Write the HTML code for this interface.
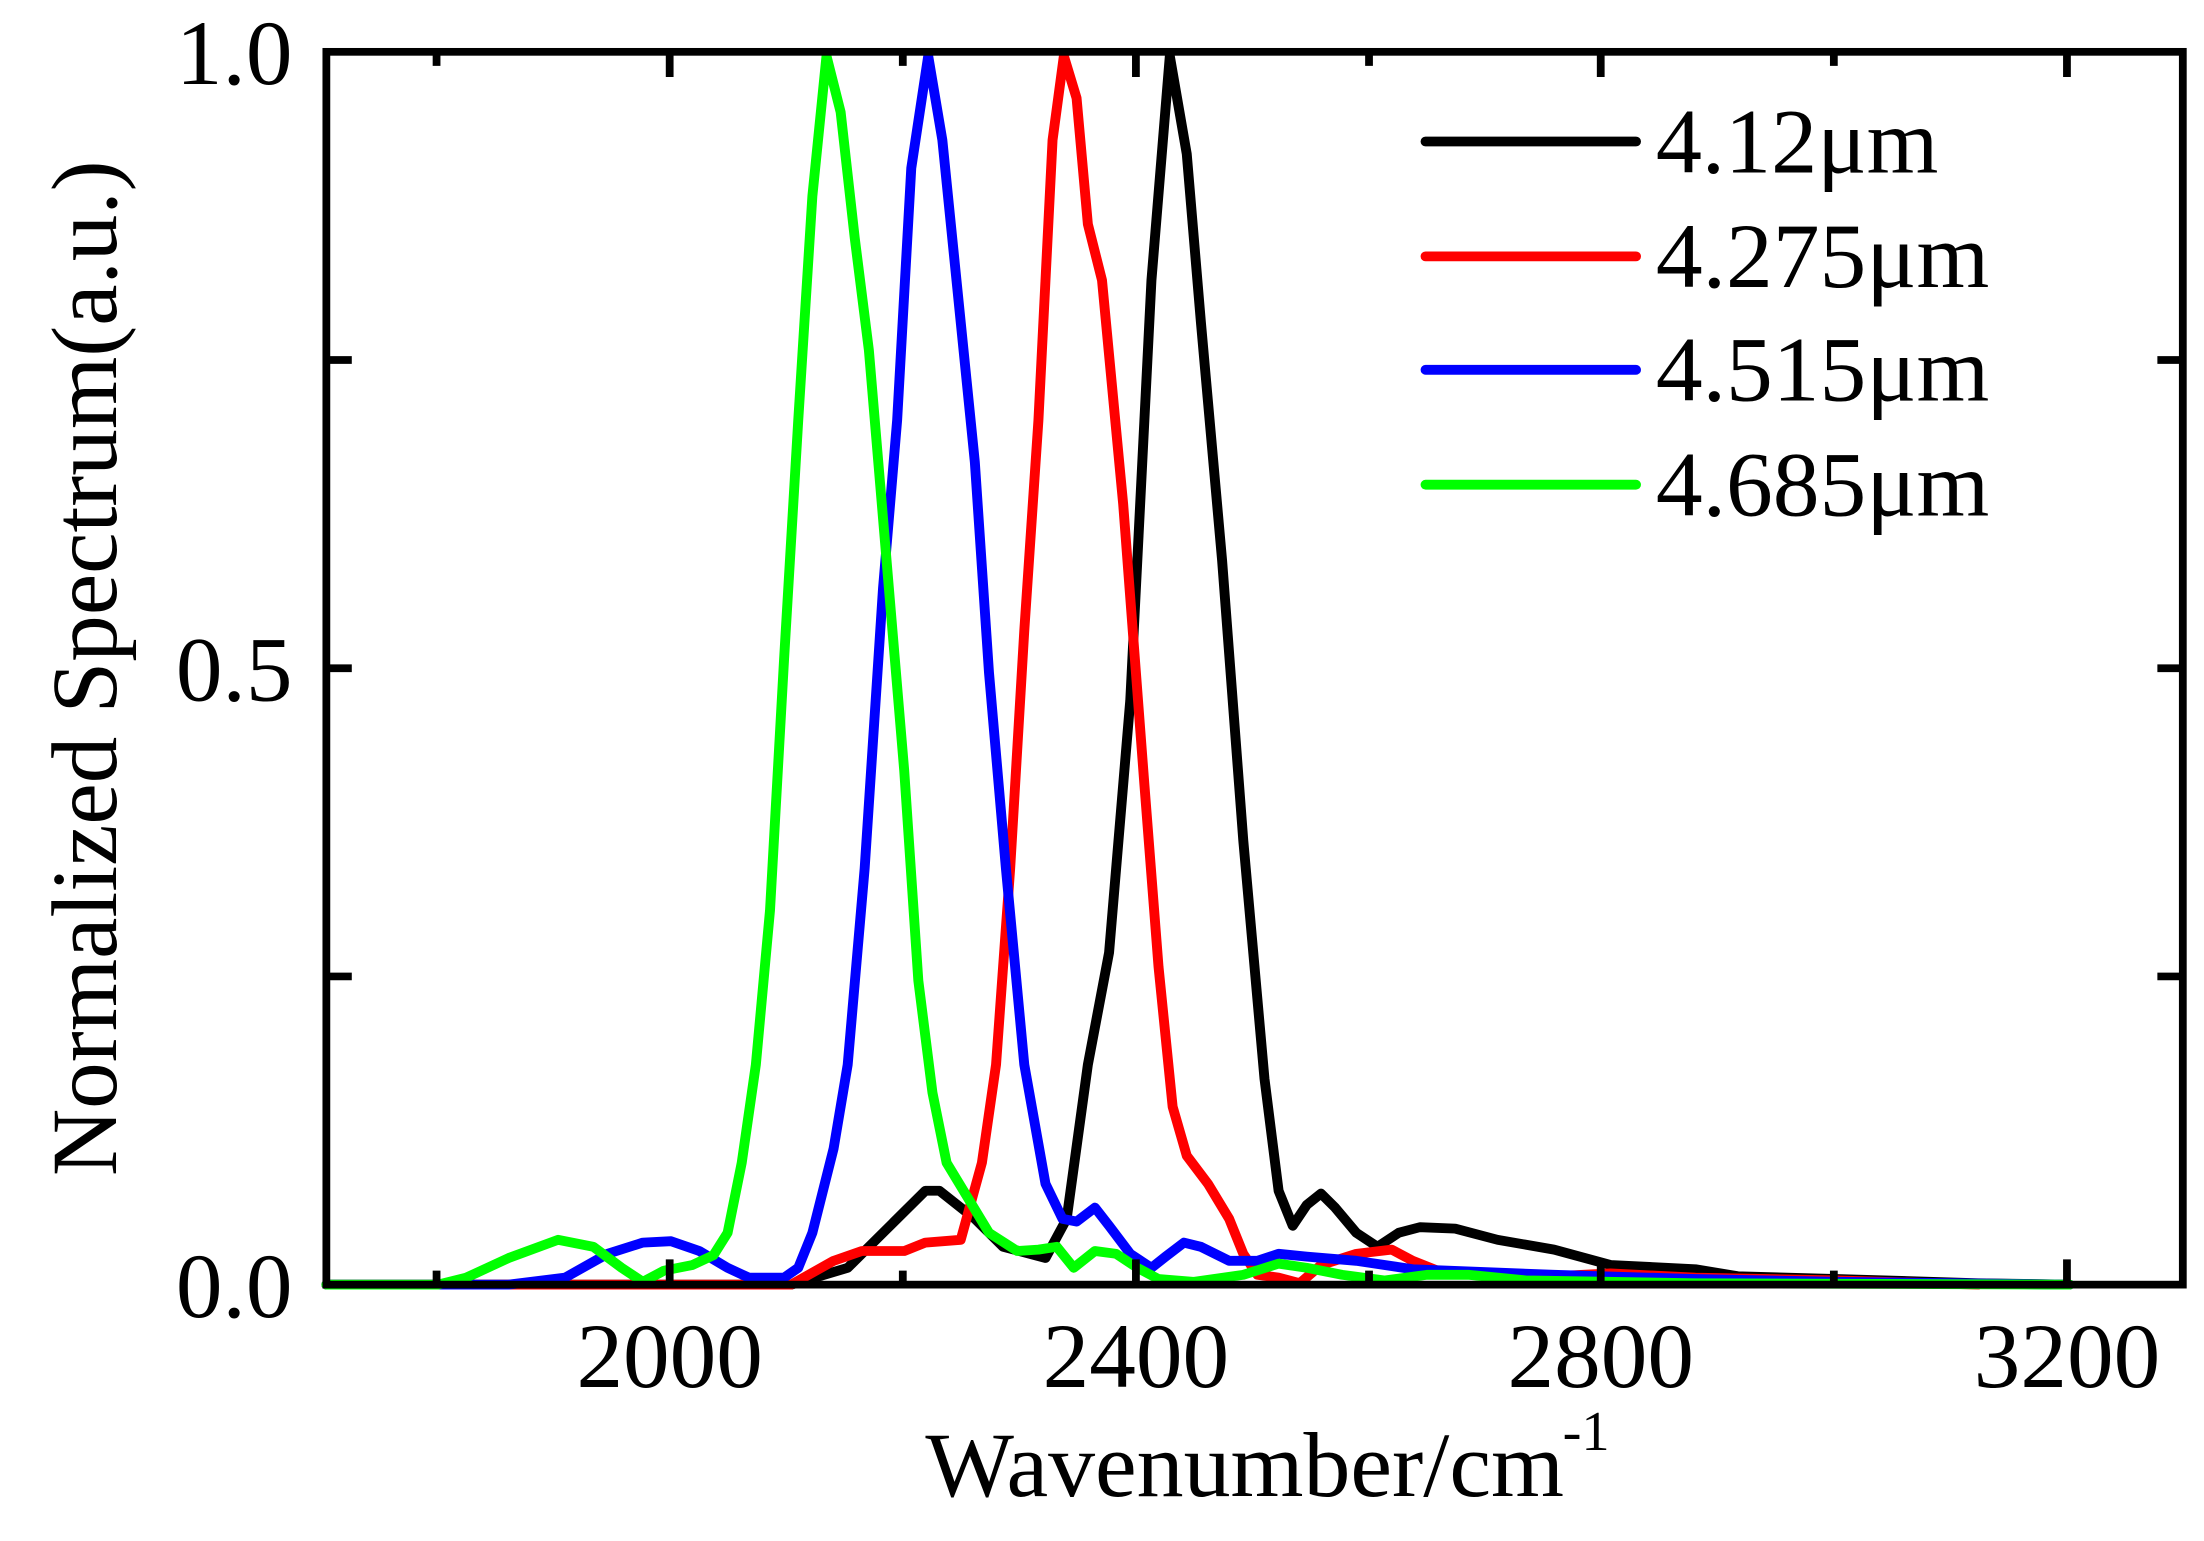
<!DOCTYPE html>
<html><head><meta charset="utf-8"><style>
html,body{margin:0;padding:0;background:#fff;}
svg{display:block;}
text{font-family:"Liberation Serif","Times New Roman",serif;fill:#000;}
</style></head><body>
<svg width="2204" height="1541" viewBox="0 0 1560 1100" preserveAspectRatio="none" xmlns="http://www.w3.org/2000/svg">
<rect width="1560" height="1100" fill="#fff"/>
<g fill="none" stroke-width="7" stroke-linejoin="round" stroke-linecap="round">
<polyline stroke="#000" points="231,917 560,917 600,905 630,875 655,850 665,850 690,870 710,890 740,898 755,870 770,760 785,680 800,500 815,200 828,40 840,110 850,230 865,400 880,600 895,770 905,850 915,875 925,860 935,852 945,862 960,880 975,890 990,880 1005,876 1030,877 1060,885 1100,892 1140,903 1200,906 1230,911 1300,913 1400,916 1465,917"/>
<polyline stroke="#ff0000" points="231,917 560,917 590,900 610,893 640,893 655,887 680,885 695,830 705,760 715,620 725,450 735,300 745,100 753,40 762,70 770,160 780,200 795,360 810,560 820,690 830,790 840,825 855,845 870,870 880,895 890,910 905,912 920,916 935,903 960,895 985,892 1000,900 1020,908 1080,912 1140,909 1200,912 1300,914 1400,917"/>
<polyline stroke="#0000ff" points="231,917 360,917 400,912 430,895 455,887 475,886 495,893 515,905 530,912 555,912 565,905 575,880 590,820 600,760 612,620 625,420 635,300 645,120 657,40 667,100 677,200 690,330 700,480 712,620 725,760 740,845 752,870 762,872 775,862 785,875 800,895 815,905 825,897 838,887 850,890 870,900 890,900 905,895 925,897 960,900 1000,906 1100,910 1200,913 1300,915 1465,917"/>
<polyline stroke="#00ff00" points="231,917 310,917 330,912 360,898 395,885 420,890 440,905 455,915 470,907 490,903 505,896 515,880 525,830 535,760 545,650 555,470 565,300 575,140 585,40 595,80 605,170 615,250 625,370 640,550 650,700 660,780 670,830 685,855 700,880 720,893 735,892 748,890 760,905 775,893 790,895 805,905 820,913 845,915 880,910 905,902 925,905 950,910 980,914 1010,910 1040,910 1080,914 1200,916 1465,917"/>
<line stroke="#000" x1="1009" y1="101" x2="1158" y2="101"/>
<line stroke="#ff0000" x1="1009" y1="183" x2="1158" y2="183"/>
<line stroke="#0000ff" x1="1009" y1="264" x2="1158" y2="264"/>
<line stroke="#00ff00" x1="1009" y1="346" x2="1158" y2="346"/>
</g>
<g stroke="#000" stroke-width="5.5" fill="none">
<rect x="231" y="37" width="1314" height="880"/>
<path d="M474,917v-18M804,917v-18M1133,917v-18M1463,917v-18M309,917v-10M639,917v-10M969,917v-10M1298,917v-10
M474,37v18M804,37v18M1133,37v18M1463,37v18M309,37v10M639,37v10M969,37v10M1298,37v10
M231,477h18M231,697h18M231,257h18M1545,477h-18M1545,697h-18M1545,257h-18"/>
</g>
<g font-size="66">
<text x="1172" y="123" textLength="200" lengthAdjust="spacingAndGlyphs">4.12μm</text>
<text x="1172" y="205" textLength="236" lengthAdjust="spacingAndGlyphs">4.275μm</text>
<text x="1172" y="286" textLength="236" lengthAdjust="spacingAndGlyphs">4.515μm</text>
<text x="1172" y="368" textLength="236" lengthAdjust="spacingAndGlyphs">4.685μm</text>
<text x="207" y="60" text-anchor="end">1.0</text>
<text x="207" y="500" text-anchor="end">0.5</text>
<text x="207" y="940" text-anchor="end">0.0</text>
<text x="474" y="990" text-anchor="middle">2000</text>
<text x="804" y="990" text-anchor="middle">2400</text>
<text x="1133" y="990" text-anchor="middle">2800</text>
<text x="1463" y="990" text-anchor="middle">3200</text>
<text x="655" y="1068" textLength="452" lengthAdjust="spacingAndGlyphs">Wavenumber/cm</text>
<text x="1106" y="1035" font-size="40">-1</text>
<text transform="translate(82,477) rotate(-90)" text-anchor="middle" textLength="725" lengthAdjust="spacingAndGlyphs">Normalized Spectrum(a.u.)</text>
</g>
</svg>
</body></html>
